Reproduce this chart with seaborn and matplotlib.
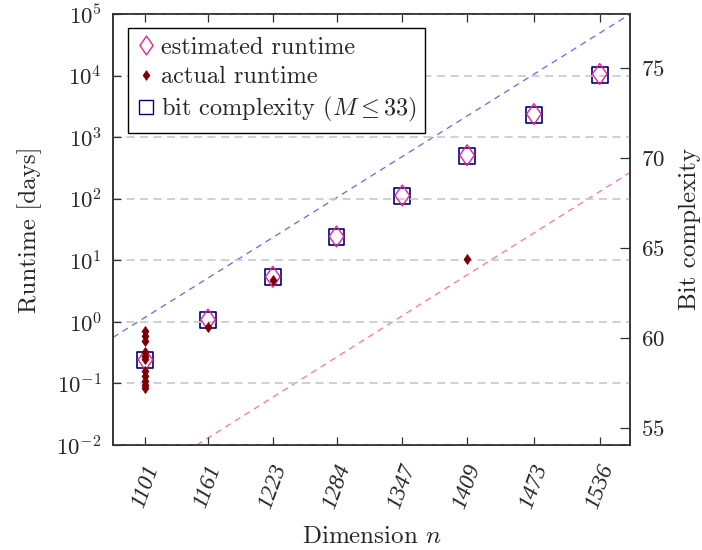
import numpy as np
import pandas as pd
import matplotlib
matplotlib.use("Agg")
import matplotlib.pyplot as plt
import seaborn as sns
from matplotlib.path import Path
from matplotlib.lines import Line2D
from matplotlib.ticker import FixedLocator, LogLocator, NullLocator

# ---------------- data ----------------
dims = [1101, 1161, 1223, 1284, 1347, 1409, 1473, 1536]
est_runtime = [0.242, 1.09, 5.4, 24.4, 113, 509, 2370, 10600]
actual_dims = [1101] * 11 + [1161, 1223, 1409]
actual_runtime = [0.70, 0.60, 0.48, 0.33, 0.28, 0.25, 0.16, 0.13, 0.11, 0.095, 0.085,
                  0.84, 4.8, 10.5]
bit_complexity = [58.78, 61.0, 63.39, 65.61, 67.89, 70.11, 72.39, 74.61]
fit_dims = [1101, 1536]
fit_upper = [61.16, 76.94]
fit_lower = [52.26, 68.14]
right_ticks = [55, 60, 65, 70, 75]

# ---------------- style ----------------
sns.set_theme(style="ticks")
plt.rcParams["font.family"] = ["cmr10"]
plt.rcParams["mathtext.fontset"] = "cm"
plt.rcParams["axes.formatter.use_mathtext"] = True
plt.rcParams["axes.unicode_minus"] = False

PINK = "#f0208f"
MAROON = "#7f0000"
NAVY = "#000080"
BLUE_LINE = "#6464ff"
PINK_LINE = "#ff6eaa"
SPINE = "#303030"

diamond = Path([(0, 1), (0.7, 0), (0, -1), (-0.7, 0), (0, 1)],
               [Path.MOVETO, Path.LINETO, Path.LINETO, Path.LINETO, Path.CLOSEPOLY])

fig = plt.figure(figsize=(7.02, 5.5), dpi=100)
ax = fig.add_axes([113 / 702, 1 - 445 / 550, (630 - 113) / 702, (445 - 14) / 550])
ax2 = ax.twinx()
ax.set_zorder(ax2.get_zorder() + 1)
ax.patch.set_visible(False)

est_df = pd.DataFrame({"dim": dims, "runtime": est_runtime})
act_df = pd.DataFrame({"dim": actual_dims, "runtime": actual_runtime})
bit_df = pd.DataFrame({"dim": dims, "bits": bit_complexity})

# right axis: fit lines and bit complexity squares
ax2.axline((fit_dims[0], fit_upper[0]), (fit_dims[1], fit_upper[1]),
           color=BLUE_LINE, lw=0.9, ls=(0, (5, 4)))
ax2.axline((fit_dims[0], fit_lower[0]), (fit_dims[1], fit_lower[1]),
           color=PINK_LINE, lw=0.9, ls=(0, (5, 4)))
sns.scatterplot(data=bit_df, x="dim", y="bits", ax=ax2, marker="s", s=11.5 ** 2,
                facecolor="none", edgecolor=NAVY, linewidth=1.2, zorder=3)

# left axis: runtimes
sns.scatterplot(data=est_df, x="dim", y="runtime", ax=ax, marker=diamond, s=15 ** 2,
                facecolor="none", edgecolor=PINK, linewidth=1.0, zorder=4)
sns.scatterplot(data=act_df, x="dim", y="runtime", ax=ax, marker=diamond, s=7.2 ** 2,
                color=MAROON, edgecolor=MAROON, linewidth=0.5, zorder=5)

ax.set_yscale("log")
ax.set_ylim(1e-2, 1e5)
ax.set_xlim(1070, 1565)
ax2.set_ylim(54.06, 78.0)

ax.yaxis.set_major_locator(LogLocator(base=10, numticks=20))
ax.yaxis.set_minor_locator(NullLocator())
ax.xaxis.set_major_locator(FixedLocator(dims))
ax.set_xticks(dims)
ax.set_xticklabels([str(d) for d in dims], rotation=70, ha="center", va="top",
                   family="Liberation Serif", style="italic", fontsize=17)
ax2.yaxis.set_major_locator(FixedLocator(right_ticks))

ax.yaxis.grid(True, which="major", color="#c8c8c8", lw=1.2, ls=(0, (4.8, 3.3)))
ax.xaxis.grid(False)
ax2.grid(False)

for a in (ax, ax2):
    for s in a.spines.values():
        s.set_color(SPINE)
        s.set_linewidth(1.1)
ax.tick_params(axis="both", direction="in", length=6, width=0.9, color=SPINE,
               labelsize=16.5, top=True, bottom=True, left=True, right=False)
ax.tick_params(axis="x", pad=12)
ax.tick_params(axis="y", pad=8)
ax2.tick_params(axis="y", direction="in", length=7, width=0.9, color=SPINE,
                labelsize=16.5, pad=8)

ax.set_xlabel("Dimension $n$", fontsize=18, labelpad=10)
ax.set_ylabel("Runtime [days]", fontsize=18, labelpad=10)
ax2.set_ylabel("Bit complexity", fontsize=18, labelpad=10)

handles = [
    Line2D([], [], ls="none", marker=diamond, ms=13.5, mfc="none", mec=PINK, mew=1.0),
    Line2D([], [], ls="none", marker=diamond, ms=7.0, mfc=MAROON, mec=MAROON, mew=0.5),
    Line2D([], [], ls="none", marker="s", ms=10.5, mfc="none", mec=NAVY, mew=1.0),
]
labels = ["estimated runtime", "actual runtime", r"bit complexity ($M \leq 33$)"]
leg = ax.legend(handles, labels, loc="upper left",
                bbox_to_anchor=(128 / 702, 1 - 28 / 550), bbox_transform=fig.transFigure,
                borderaxespad=0, fancybox=False, framealpha=1, edgecolor="black",
                fontsize=17.5, handlelength=0.8, handletextpad=0.2, labelspacing=0.3,
                borderpad=0.35)
leg.get_frame().set_linewidth(1.0)

fig.savefig("out.png", dpi=100)
